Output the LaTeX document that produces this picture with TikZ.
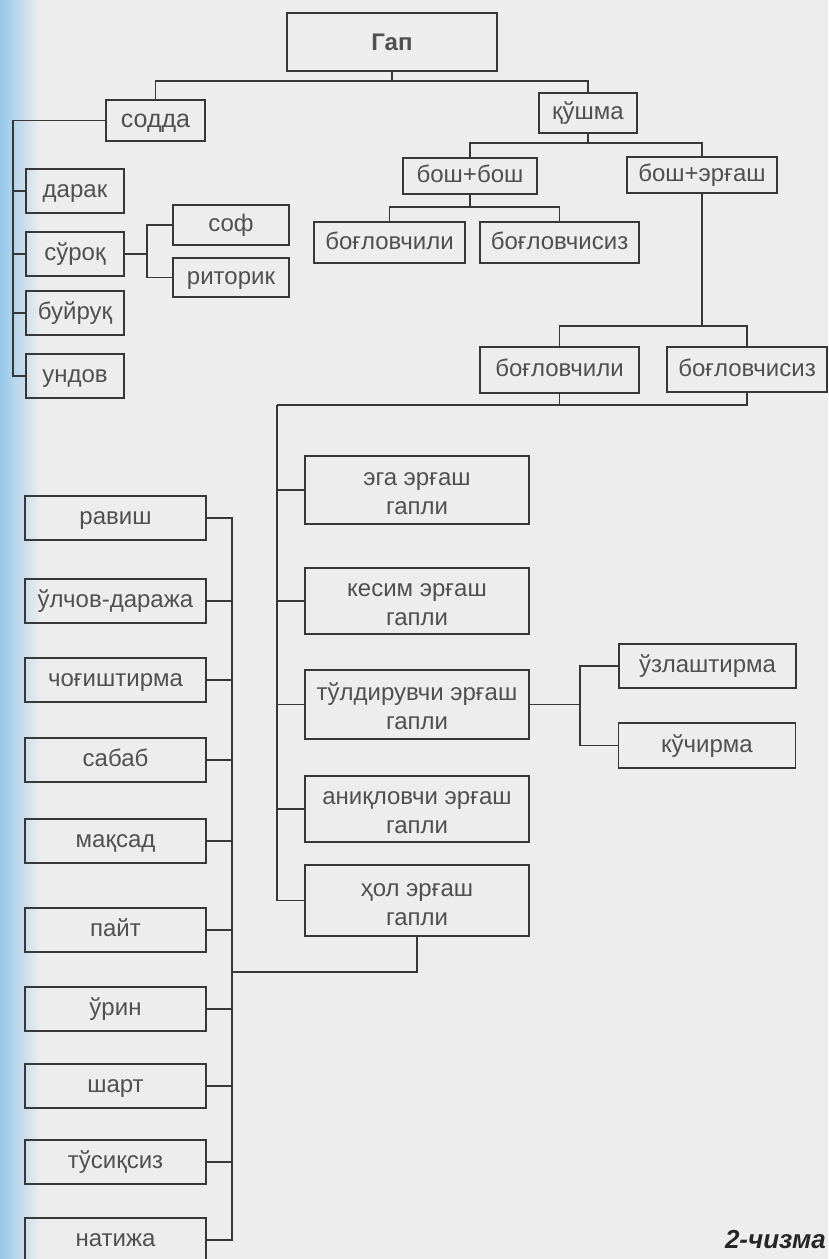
\documentclass[tikz,border=0pt]{standalone}
\usepackage{fontspec}
\setmainfont{Liberation Sans}
\usetikzlibrary{calc}
\definecolor{bg}{RGB}{237,237,237}
\definecolor{ln}{RGB}{55,55,55}
\definecolor{tx}{RGB}{80,80,80}
\definecolor{edge}{RGB}{150,200,235}
\newcommand{\twoline}[2]{\rule{0pt}{25.5pt}#1\\#2\rule[-5pt]{0pt}{5pt}}
\begin{document}
\begin{tikzpicture}[x=1pt,y=-1pt,
  base/.style={draw=ln,line width=1.8pt,text=tx,inner sep=0pt,align=center,
    font=\fontsize{24}{29}\selectfont},
  box/.style={base,text height=17.5pt,text depth=4.5pt},
  lbox/.style={box,minimum width=181pt,minimum height=44pt},
  rbox/.style={base,minimum width=224pt,minimum height=67pt},
  sbox/.style={box,minimum width=98pt,minimum height=44pt},
  conn/.style={draw=ln,line width=1.8pt}]
\fill[bg] (0,0) rectangle (828,1259);
\shade[left color=edge,right color=bg] (0,0) rectangle (40,1259);
\useasboundingbox (0,0) rectangle (828,1259);

% top tree
\node[base,minimum width=210pt,minimum height=58pt,font=\fontsize{24}{29}\selectfont\bfseries] (gap) at (392,42) {Гап};
\node[box,minimum width=99pt,minimum height=41pt,font=\fontsize{25}{29}\selectfont] (sodda) at (155.5,120.5) {содда};
\node[box,minimum width=98pt,minimum height=40pt] (kushma) at (588,113) {қўшма};
\node[sbox] (darak) at (75,191) {дарак};
\node[sbox] (surok) at (75,254) {сўроқ};
\node[sbox] (buyruk) at (75,313) {буйруқ};
\node[sbox] (undov) at (75,376) {ундов};
\node[box,minimum width=116pt,minimum height=40pt] (sof) at (231,225) {соф};
\node[box,minimum width=116pt,minimum height=39pt] (ritorik) at (231,277.5) {риторик};
\node[box,minimum width=134pt,minimum height=36pt] (boshbosh) at (470,176) {бош+бош};
\node[box,minimum width=150pt,minimum height=36pt] (bosherg) at (702,175) {бош+эрғаш};
\node[box,minimum width=151pt,minimum height=41pt] (boglov1) at (389.5,242.5) {боғловчили};
\node[box,minimum width=159pt,minimum height=41pt] (boglovsiz1) at (559.5,242.5) {боғловчисиз};
\node[box,minimum width=159pt,minimum height=46pt] (boglov2) at (559.5,370) {боғловчили};
\node[box,minimum width=160pt,minimum height=45pt] (boglovsiz2) at (747,369.5) {боғловчисиз};

\coordinate (j1) at (392,81);
\draw[conn] (gap.south) -- (j1);
\draw[conn] (sodda.north) |- (j1) -| (kushma.north);
\coordinate (j2) at (588,143);
\draw[conn] (kushma.south) -- (j2);
\draw[conn] (boshbosh.north) |- (j2) -| (bosherg.north);
\coordinate (j3) at (470,207);
\draw[conn] (boshbosh.south) -- (j3);
\draw[conn] (boglov1.north) |- (j3) -| (boglovsiz1.north);
\coordinate (j4) at (702,326);
\draw[conn] (bosherg.south) -- (j4);
\draw[conn] (boglov2.north) |- (j4) -| (boglovsiz2.north);

\coordinate (v1) at (13,122);
\draw[conn] (sodda.west) -- (sodda.west -| v1) -- (v1 |- undov.west) -- (undov.west);
\foreach \n in {darak,surok,buyruk} \draw[conn] (\n.west) -- (\n.west -| v1);
\coordinate (v2) at (147,254);
\draw[conn] (surok.east) -- (v2);
\draw[conn] (sof.west) -| (v2) |- (ritorik.west);

% bottom: right column
\node[rbox,minimum height=68pt] (ega) at (417,490) {\twoline{эга эрғаш}{гапли}};
\node[rbox,minimum height=66pt] (kesim) at (417,601) {\twoline{кесим эрғаш}{гапли}};
\node[rbox,minimum height=69pt] (tuldir) at (417,704.5) {\twoline{тўлдирувчи эрғаш}{гапли}};
\node[rbox,minimum height=66pt] (aniq) at (417,809) {\twoline{аниқловчи эрғаш}{гапли}};
\node[rbox,minimum height=71pt] (hol) at (417,900.5) {\twoline{ҳол эрғаш}{гапли}};
\node[box,minimum width=177pt,minimum height=44pt] (uzl) at (707.5,666) {ўзлаштирма};
\node[box,minimum width=177pt,minimum height=45pt] (kuch) at (707,745.5) {кўчирма};

\coordinate (j5) at (277,405);
\draw[conn] (boglovsiz2.south) |- (j5);
\draw[conn] (boglov2.south) -- (boglov2.south |- j5);
\draw[conn] (j5) |- (hol.west);
\foreach \n in {ega,kesim,tuldir,aniq} \draw[conn] (\n.west) -- (\n.west -| j5);

\coordinate (v4) at (580,704.5);
\draw[conn] (tuldir.east) -- (v4);
\draw[conn] (uzl.west) -| (v4) |- (kuch.west);

% bottom: left column
\node[lbox] (ravish) at (115.5,518) {равиш};
\node[lbox] (ulchov) at (115.5,601) {ўлчов-даража};
\node[lbox] (chogish) at (115.5,680) {чоғиштирма};
\node[lbox] (sabab) at (115.5,760) {сабаб};
\node[lbox] (maksad) at (115.5,841) {мақсад};
\node[lbox] (payt) at (115.5,930) {пайт};
\node[lbox] (urin) at (115.5,1009) {ўрин};
\node[lbox] (shart) at (115.5,1086) {шарт};
\node[lbox] (tusik) at (115.5,1162) {тўсиқсиз};
\node[lbox] (natija) at (115.5,1240) {натижа};

\coordinate (v3) at (232,972);
\draw[conn] (hol.south) |- (v3);
\draw[conn] (ravish.east) -| (v3 |- natija.east) -- (natija.east);
\foreach \n in {ulchov,chogish,sabab,maksad,payt,urin,shart,tusik} \draw[conn] (\n.east) -- (\n.east -| v3);

\node[anchor=east,inner sep=0pt,text=black!85,font=\fontsize{26}{30}\selectfont\bfseries\itshape] (cap) at (826,1240) {2-чизма};
\end{tikzpicture}
\end{document}
